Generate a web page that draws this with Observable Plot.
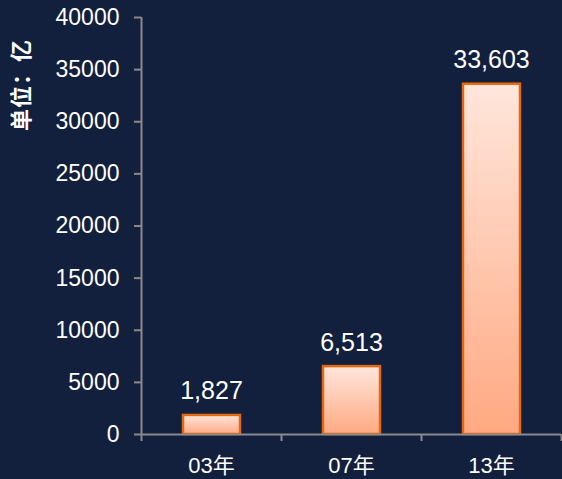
<!DOCTYPE html>
<html>
<head>
<meta charset="utf-8">
<script src="https://cdn.jsdelivr.net/npm/d3@7"></script>
<script src="https://cdn.jsdelivr.net/npm/@observablehq/plot@0.6"></script>
<style>
  html, body { margin: 0; padding: 0; background: #121f3d; }
</style>
</head>
<body>
<div id="chart"></div>
<script>
const categories = ["03年", "07年", "13年"];
const values = [1827, 6513, 33603];
const valueLabels = ["1,827", "6,513", "33,603"];
const yTicks = [0, 5000, 10000, 15000, 20000, 25000, 30000, 35000, 40000];
const yTitle = "单位：亿";

const data = categories.map((c, i) => ({ i, category: c, value: values[i], label: valueLabels[i] }));

const axisColor = "#8a8a8a";
const fontFamily = "'Liberation Sans', Arial, 'Noto Sans CJK SC', sans-serif";

const gradientDefs = () => {
  const defs = d3.create("svg:defs");
  const g = defs.append("linearGradient")
    .attr("id", "barGrad").attr("x1", 0).attr("y1", 0).attr("x2", 0).attr("y2", 1);
  g.append("stop").attr("offset", "0%").attr("stop-color", "#ffe6dc");
  g.append("stop").attr("offset", "100%").attr("stop-color", "#ffa982");
  return defs.node();
};

const yTitleMark = (index, scales, values, dimensions) => {
  const cx = 21;
  const cy = 85;
  const t = d3.create("svg:text")
    .attr("transform", `translate(${cx},${cy}) rotate(-90)`)
    .attr("text-anchor", "middle")
    .attr("dominant-baseline", "central")
    .attr("fill", "#ffffff")
    .attr("font-size", 22)
    .attr("font-weight", "bold")
    .attr("letter-spacing", 1)
    .text(yTitle);
  return t.node();
};

const chart = Plot.plot({
  width: 562,
  height: 479,
  marginLeft: 141,
  marginRight: 1,
  marginTop: 17,
  marginBottom: 45,
  style: { background: "#121f3d", color: "#ffffff", fontFamily },
  x: { type: "linear", domain: [0, categories.length] },
  y: { domain: [0, 40000] },
  marks: [
    gradientDefs,
    Plot.rectY(data, {
      x1: d => d.i, x2: d => d.i + 1, y: "value",
      insetLeft: 42, insetRight: 41,
      fill: "url(#barGrad)", stroke: "#e4680e", strokeWidth: 2.5
    }),
    Plot.text(data, {
      x: d => d.i + 0.5, y: "value", text: "label",
      dy: -24, fontSize: 25, fill: "#ffffff"
    }),
    Plot.ruleX([0], { y1: 0, y2: 40000, stroke: axisColor, strokeWidth: 2 }),
    Plot.ruleY([0], { stroke: axisColor, strokeWidth: 2 }),
    Plot.axisY({
      ticks: yTicks, tickFormat: d => String(d), tickSize: 7, tickPadding: 15,
      fontSize: 23, stroke: axisColor, strokeWidth: 2, strokeOpacity: 1, fill: "#ffffff", label: null
    }),
    Plot.axisX({
      ticks: d3.range(categories.length + 1), tickFormat: () => "", tickSize: 7,
      stroke: axisColor, strokeWidth: 2, strokeOpacity: 1, label: null
    }),
    Plot.axisX({
      ticks: categories.map((c, i) => i + 0.5), tickFormat: d => categories[Math.floor(d)],
      tickSize: 0, tickPadding: 23, fontSize: 22, fill: "#ffffff", label: null
    }),
    yTitleMark
  ]
});

document.getElementById("chart").appendChild(chart);
</script>
</body>
</html>
